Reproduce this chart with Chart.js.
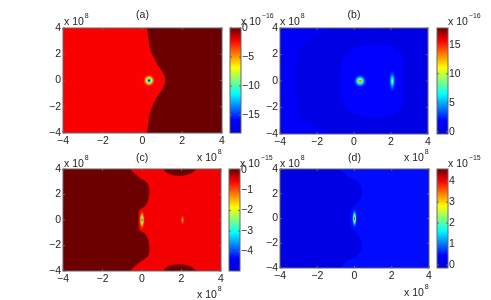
<!DOCTYPE html>
<html>
<head>
<meta charset="utf-8">
<script src="https://cdn.jsdelivr.net/npm/chart.js@4"></script>
<style>
  html, body { margin: 0; padding: 0; background: #fff; }
  #stage { position: relative; width: 491px; height: 300px; overflow: hidden; filter: blur(0.3px); }
  #stage canvas { position: absolute; left: 0; top: 0; }
</style>
</head>
<body>
<div id="stage"></div>
<script>
// axis ticks of the four maps (units of 1e8)
const mapTicks = [-4, -2, 0, 2, 4];

// colorbar ranges and ticks
const rangeA = [-18.1, 0];
const rangeB = [-0.4, 17.9];
const rangeC = [-4.95, 0.03];
const rangeD = [-0.14, 4.57];
const barTicksA = [-15, -10, -5, 0];
const barTicksB = [0, 5, 10, 15];
const barTicksC = [-4, -3, -2, -1, 0];
const barTicksD = [0, 1, 2, 3, 4];

// contour outlines, x and y in units of 1e8
// points past +-4 just close the shape outside the axes, the scales clip them
const wholeMap = [[-4, -4], [4, -4], [4, 4], [-4, 4]];
const contourA = [[0.2, 5], [0.24, 4], [0.29, 3.3], [0.41, 2.3], [0.72, 1.29], [1.05, 0.53], [1.15, 0], [1.05, -0.53], [0.72, -1.29], [0.41, -2.3], [0.29, -3.3], [0.24, -4], [0.2, -5], [5, -5], [5, 5]];
const contourB1 = [[-3.14, 0], [-3.12, 1.2], [-2.95, 2.3], [-2.65, 2.9], [-2.1, 3.4], [-1.4, 3.85], [-0.6, 4.5], [5, 5], [5, -5], [-0.6, -4.5], [-1.4, -3.85], [-2.1, -3.4], [-2.65, -2.9], [-2.95, -2.3], [-3.12, -1.2], [-3.14, 0]];
const contourB2 = [[-0.76, 0], [-0.67, 1.3], [-0.22, 2.3], [0.5, 2.67], [1.57, 2.72], [2.38, 2.3], [2.69, 1.3], [2.72, 0], [2.69, -1.3], [2.38, -2.3], [1.57, -2.72], [0.5, -2.67], [-0.22, -2.3], [-0.67, -1.3], [-0.76, 0]];
const contourC1 = [[-5, 5], [-1.3, 5], [-0.61, 4], [-0.1, 3.29], [0.27, 2.9], [0.37, 2.37], [0.32, 1.58], [0.15, 1.05], [-0.02, 0.92], [-0.15, 0.66], [-0.17, 0], [-0.15, -0.66], [-0.02, -0.92], [0.15, -1.05], [0.32, -1.58], [0.37, -2.37], [0.27, -2.9], [-0.1, -3.29], [-0.61, -4], [-1.3, -5], [-5, -5]];
const contourC2 = [[0.85, 4.5], [1.08, 4], [1.34, 3.63], [1.93, 3.47], [2.44, 3.63], [2.75, 4], [2.95, 4.5]];
const contourC3 = [[0.85, -4.5], [1.08, -4], [1.34, -3.63], [1.93, -3.47], [2.44, -3.63], [2.75, -4], [2.95, -4.5]];
const contourD = [[-5, 5], [-1.5, 5], [-0.78, 4], [-0.38, 3.43], [0.2, 2.97], [0.38, 2.2], [0.3, 1.54], [0.03, 1.05], [-0.2, 0.73], [-0.24, 0], [-0.2, -0.73], [0.03, -1.05], [0.3, -1.54], [0.38, -2.2], [0.2, -2.97], [-0.38, -3.43], [-0.78, -4], [-1.5, -5], [-5, -5]];

// level of each contour region, same order as the outlines in panels below
const levelsA = [-2.2, 0];
const levelsB = [1.4, 0.15, 1.9];
const levelsC = [-0.55, 0.03, 0.03, 0.03];
const levelsD = [0.5, 0];

// peaks
const peakXA = [0.33],  peakYA = [0], peakValA = [-17.8];
const peakXB = [0.33, 2.07], peakYB = [0, 0], peakValB = [15.5, 9.8];
const peakXC = [0, 2.05], peakYC = [0, 0], peakValC = [-4.2, -1.6];
const peakXD = [0], peakYD = [0], peakValD = [4.1];
const falloff = [1, 0.8, 0.55, 0.35, 0.2, 0.1, 0.04, 0];

const jetStops = [[0, 0, 0, 220], [0.125, 0, 0, 255], [0.375, 0, 255, 255], [0.625, 255, 255, 0], [0.875, 255, 0, 0], [1, 108, 0, 0]];

function jet(f, alpha = 1) {
    f = Math.min(1, Math.max(0, f));
    let i = 0;
    while (i < jetStops.length - 2 && f > jetStops[i + 1][0]) i++;
    const a = jetStops[i], b = jetStops[i + 1];
    const t = (f - a[0]) / (b[0] - a[0]);
    const c = [1, 2, 3].map(k => Math.round(a[k] + (b[k] - a[k]) * t));
    return `rgba(${c[0]},${c[1]},${c[2]},${alpha})`;
}

const stage = document.getElementById('stage');
function newCanvas() {
    const c = document.createElement('canvas');
    c.style.width = '491px';
    c.style.height = '300px';
    stage.appendChild(c);
    return c.getContext('2d');
}

const FONT = '"Liberation Sans", Arial, sans-serif';
const INK = '#222';
const TEXT_SIZE = 10.5;

function fmt(v) { return String(v).replace('-', '\u2212'); }

// writes "x 10^n" with a raised exponent
function drawExponent(ctx, x, y, exp) {
    ctx.font = `${TEXT_SIZE}px ${FONT}`;
    ctx.fillStyle = INK;
    ctx.textAlign = 'left';
    ctx.textBaseline = 'alphabetic';
    ctx.fillText('x 10', x, y);
    const w = ctx.measureText('x 10').width;
    ctx.font = `7px ${FONT}`;
    ctx.fillText(fmt(exp), x + w + 1, y - 7);
}

// frame, inward tick marks, titles and the exponent labels
const framePlugin = {
    id: 'frame',
    afterDatasetsDraw(chart, args, opts) {
        const { ctx, chartArea: a, scales } = chart;
        ctx.save();
        ctx.strokeStyle = '#666';
        ctx.lineWidth = 1;
        ctx.strokeRect(a.left, a.top, a.right - a.left, a.bottom - a.top);
        ctx.beginPath();
        (opts.xTicks || []).forEach(v => {
            const p = scales.x.getPixelForValue(v);
            ctx.moveTo(p, a.bottom); ctx.lineTo(p, a.bottom - 2);
            ctx.moveTo(p, a.top); ctx.lineTo(p, a.top + 2);
        });
        (opts.yTicks || []).forEach(v => {
            const p = scales.y.getPixelForValue(v);
            ctx.moveTo(a.left, p); ctx.lineTo(a.left + 2, p);
            ctx.moveTo(a.right, p); ctx.lineTo(a.right - 2, p);
        });
        ctx.stroke();
        (opts.exponents || []).forEach(e => drawExponent(ctx, e.x, e.y, e.exp));
        if (opts.title) {
            ctx.font = `${TEXT_SIZE}px ${FONT}`;
            ctx.fillStyle = INK;
            ctx.textAlign = 'center';
            ctx.textBaseline = 'alphabetic';
            ctx.fillText(opts.title.text, (a.left + a.right) / 2, opts.title.y);
        }
        ctx.restore();
    }
};

function boxPadding(box, leftW, bottomH) {
    return { left: box.l - leftW, top: box.t, right: 491 - box.r, bottom: 300 - box.b - bottomH };
}

// soft spot image used as a point style
function spotImage(rx, ry, value, base, range) {
    const c = document.createElement('canvas');
    c.width = Math.ceil(rx * 2) + 2;
    c.height = Math.ceil(ry * 2) + 2;
    const g = c.getContext('2d');
    g.translate(c.width / 2, c.height / 2);
    g.scale(rx, ry);
    const grad = g.createRadialGradient(0, 0, 0, 0, 0, 1);
    const span = range[1] - range[0];
    falloff.forEach((f, i) => {
        const v = base + (value - base) * f;
        const pos = i / (falloff.length - 1);
        grad.addColorStop(pos, jet((v - range[0]) / span, i === falloff.length - 1 ? 0 : 1));
    });
    g.fillStyle = grad;
    g.beginPath();
    g.arc(0, 0, 1, 0, Math.PI * 2);
    g.fill();
    return c;
}

function drawMap(cfg) {
    const span = cfg.range[1] - cfg.range[0];
    const shapes = cfg.contours.map((pts, i) => ({
        type: 'line',
        data: pts.map(p => ({ x: p[0], y: p[1] })),
        borderWidth: 0,
        pointRadius: 0,
        tension: i === 0 ? 0 : 0.4,
        capBezierPoints: false,
        fill: 'shape',
        backgroundColor: jet((cfg.levels[i] - cfg.range[0]) / span),
        borderColor: 'transparent',
        order: cfg.contours.length + 2 - i
    }));
    const spots = cfg.peakX.map((x, i) => ({
        type: 'scatter',
        data: [{ x: x, y: cfg.peakY[i] }],
        pointStyle: spotImage(cfg.radii[i][0], cfg.radii[i][1], cfg.peakVal[i], cfg.spotBase[i], cfg.range),
        pointRadius: 5,
        order: 0
    }));
    new Chart(newCanvas(), {
        type: 'line',
        data: { datasets: shapes.concat(spots) },
        plugins: [framePlugin],
        options: {
            responsive: false,
            animation: false,
            events: [],
            layout: { autoPadding: false, padding: boxPadding(cfg.box, 30, 20) },
            plugins: {
                legend: { display: false },
                tooltip: { enabled: false },
                frame: { xTicks: mapTicks, yTicks: mapTicks, exponents: cfg.exponents, title: cfg.title }
            },
            scales: {
                x: {
                    type: 'linear', min: -4, max: 4,
                    afterBuildTicks: s => { s.ticks = mapTicks.map(v => ({ value: v })); },
                    afterFit: s => { s.height = 20; },
                    border: { display: false },
                    grid: { display: false, drawTicks: false },
                    ticks: { color: INK, font: { family: FONT, size: TEXT_SIZE }, padding: 2, maxRotation: 0, autoSkip: false, callback: fmt }
                },
                y: {
                    type: 'linear', min: -4, max: 4,
                    afterBuildTicks: s => { s.ticks = mapTicks.map(v => ({ value: v })); },
                    afterFit: s => { s.width = 30; },
                    border: { display: false },
                    grid: { display: false, drawTicks: false },
                    ticks: { color: INK, font: { family: FONT, size: TEXT_SIZE }, padding: 2, autoSkip: false, callback: fmt }
                }
            }
        }
    });
}

function drawBar(cfg) {
    new Chart(newCanvas(), {
        type: 'bar',
        data: {
            labels: [''],
            datasets: [{
                data: [cfg.range],
                barPercentage: 1,
                categoryPercentage: 1,
                backgroundColor(c) {
                    const a = c.chart.chartArea;
                    if (!a) return '#00f';
                    const g = c.chart.ctx.createLinearGradient(0, a.bottom, 0, a.top);
                    jetStops.forEach(s => g.addColorStop(s[0], `rgb(${s[1]},${s[2]},${s[3]})`));
                    return g;
                }
            }]
        },
        plugins: [framePlugin],
        options: {
            responsive: false,
            animation: false,
            events: [],
            layout: { autoPadding: false, padding: { left: cfg.box.l, top: cfg.box.t, right: 491 - cfg.box.r - 30, bottom: 300 - cfg.box.b } },
            plugins: {
                legend: { display: false },
                tooltip: { enabled: false },
                frame: { yTicks: cfg.ticks, exponents: cfg.exponents }
            },
            scales: {
                x: { display: false },
                y: {
                    position: 'right',
                    min: cfg.range[0], max: cfg.range[1],
                    afterBuildTicks: s => { s.ticks = cfg.ticks.map(v => ({ value: v })); },
                    afterFit: s => { s.width = 30; },
                    border: { display: false },
                    grid: { display: false, drawTicks: false },
                    ticks: { color: INK, font: { family: FONT, size: TEXT_SIZE }, padding: 1, autoSkip: false, callback: fmt }
                }
            }
        }
    });
}

drawMap({
    box: { l: 63, t: 28, r: 222, b: 133 },
    range: rangeA, contours: [wholeMap, contourA], levels: levelsA,
    peakX: peakXA, peakY: peakYA, peakVal: peakValA, spotBase: [-2.2], radii: [[6, 6]],
    title: { text: '(a)', y: 18 },
    exponents: [{ x: 64, y: 25, exp: 8 }, { x: 197, y: 161, exp: 8 }]
});
drawBar({ box: { l: 230, t: 28, r: 241, b: 133 }, range: rangeA, ticks: barTicksA, exponents: [{ x: 241, y: 25, exp: -16 }] });

drawMap({
    box: { l: 280, t: 28, r: 428, b: 134 },
    range: rangeB, contours: [wholeMap, contourB1, contourB2], levels: levelsB,
    peakX: peakXB, peakY: peakYB, peakVal: peakValB, spotBase: [1.9, 1.9], radii: [[6.5, 6.5], [3.5, 11.5]],
    title: { text: '(b)', y: 18 },
    exponents: [{ x: 280, y: 25, exp: 8 }, { x: 404, y: 161, exp: 8 }]
});
drawBar({ box: { l: 437, t: 28, r: 448, b: 134 }, range: rangeB, ticks: barTicksB, exponents: [{ x: 448, y: 25, exp: -16 }] });

drawMap({
    box: { l: 63, t: 169, r: 221, b: 271 },
    range: rangeC, contours: [wholeMap, contourC1, contourC2, contourC3], levels: levelsC,
    peakX: peakXC, peakY: peakYC, peakVal: peakValC, spotBase: [-0.55, -0.55], radii: [[2.5, 10], [2.5, 6]],
    title: { text: '(c)', y: 161 },
    exponents: [{ x: 64, y: 167, exp: 8 }, { x: 197, y: 298, exp: 8 }]
});
drawBar({ box: { l: 229, t: 169, r: 240, b: 271 }, range: rangeC, ticks: barTicksC, exponents: [{ x: 240, y: 167, exp: -15 }] });

drawMap({
    box: { l: 280, t: 169, r: 429, b: 268 },
    range: rangeD, contours: [wholeMap, contourD], levels: levelsD,
    peakX: peakXD, peakY: peakYD, peakVal: peakValD, spotBase: [0.5], radii: [[2.5, 10]],
    title: { text: '(d)', y: 161 },
    exponents: [{ x: 280, y: 167, exp: 8 }, { x: 404, y: 296, exp: 8 }]
});
drawBar({ box: { l: 437, t: 169, r: 448, b: 268 }, range: rangeD, ticks: barTicksD, exponents: [{ x: 448, y: 167, exp: -15 }] });
</script>
</body>
</html>
